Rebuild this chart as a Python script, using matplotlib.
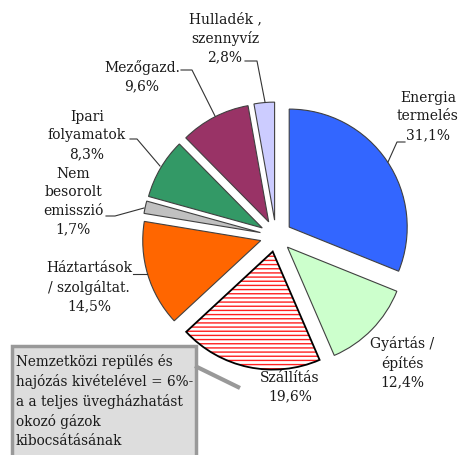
import matplotlib
matplotlib.use("Agg")
import matplotlib.pyplot as plt
import matplotlib.patches as mpatches

W, H = 458, 456

# data
categories = ["Energia\ntermelés", "Gyártás /\népítés", "Szállítás",
              "Háztartások\n/ szolgáltat.", "Nem\nbesorolt\nemisszió",
              "Ipari\nfolyamatok", "Mezőgazd.", "Hulladék ,\nszennyvíz"]
shares = [31.1, 12.4, 19.6, 14.5, 1.7, 8.3, 9.6, 2.8]
colors = ["#3366FF", "#CCFFCC", "#FFFFFF", "#FF6600", "#C0C0C0",
          "#339966", "#993366", "#CCCCFF"]
note = ("Nemzetközi repülés és\nhajózás kivételével = 6%-\n"
        "a a teljes üvegházhatást\nokozó gázok\nkibocsátásának")

plt.rcParams['font.family'] = ['DejaVu Serif']
TXT = "#1a1a1a"
R = 118


def Y(y):
    # pixel row (from top) -> data y
    return H - y


fig = plt.figure(figsize=(W / 100, H / 100), dpi=100)
ax = fig.add_axes([0, 0, 1, 1])

# explode is in data units, so scale by the radius
wedges, _ = ax.pie(shares, colors=colors, startangle=90, counterclock=False,
                   explode=[0.135 * R] * len(shares), center=(276, Y(237)),
                   radius=R, wedgeprops=dict(edgecolor="#404040", linewidth=0.8))

# Szállítás: red stripes, black outline
w = wedges[2]
w.set_facecolor("white")
w.set_edgecolor("#FF2020")
w.set_hatch("----")
w.set_linewidth(0)
ax.add_patch(mpatches.Wedge(w.center, w.r, w.theta1, w.theta2, fill=False,
                            edgecolor="black", linewidth=1.3))

ax.set_xlim(0, W)
ax.set_ylim(0, H)
ax.set_aspect("auto")
ax.axis("off")

# labels: (x centre, y of top line) in pixels, with leader lines
labels = [
    (428, 91, [(405, 143), (397, 143), (388, 163)]),
    (402, 336, None),
    (290, 371, None),
    (89, 261, [(133, 275), (147, 275)]),
    (73, 167, [(106, 217), (115, 217), (144, 209)]),
    (87, 110, [(130, 140), (137, 140), (160, 167)]),
    (142, 60, [(181, 71), (192, 71), (215, 117)]),
    (225, 12, [(245, 62), (257, 62), (265, 103)]),
]
for (x, y, lead), cat, val in zip(labels, categories, shares):
    s = cat + "\n" + f"{val:.1f}%".replace(".", ",")
    ax.text(x, Y(y), s, ha="center", va="top", fontsize=10,
            linespacing=1.4, color=TXT)
    if lead:
        ax.plot([p[0] for p in lead], [Y(p[1]) for p in lead],
                color="#333333", lw=0.8)

# note box with pointer
ax.plot([195, 240], [Y(367), Y(389)], color="#999999", lw=3,
        solid_capstyle="butt")
ax.add_patch(mpatches.Rectangle((12, Y(470)), 184, 123, facecolor="#DDDDDD",
                                edgecolor="#999999", linewidth=2.5))
ax.text(16, Y(354), note, ha="left", va="top", fontsize=9.8,
        linespacing=1.43, color=TXT)

fig.savefig("out.png", dpi=100)
